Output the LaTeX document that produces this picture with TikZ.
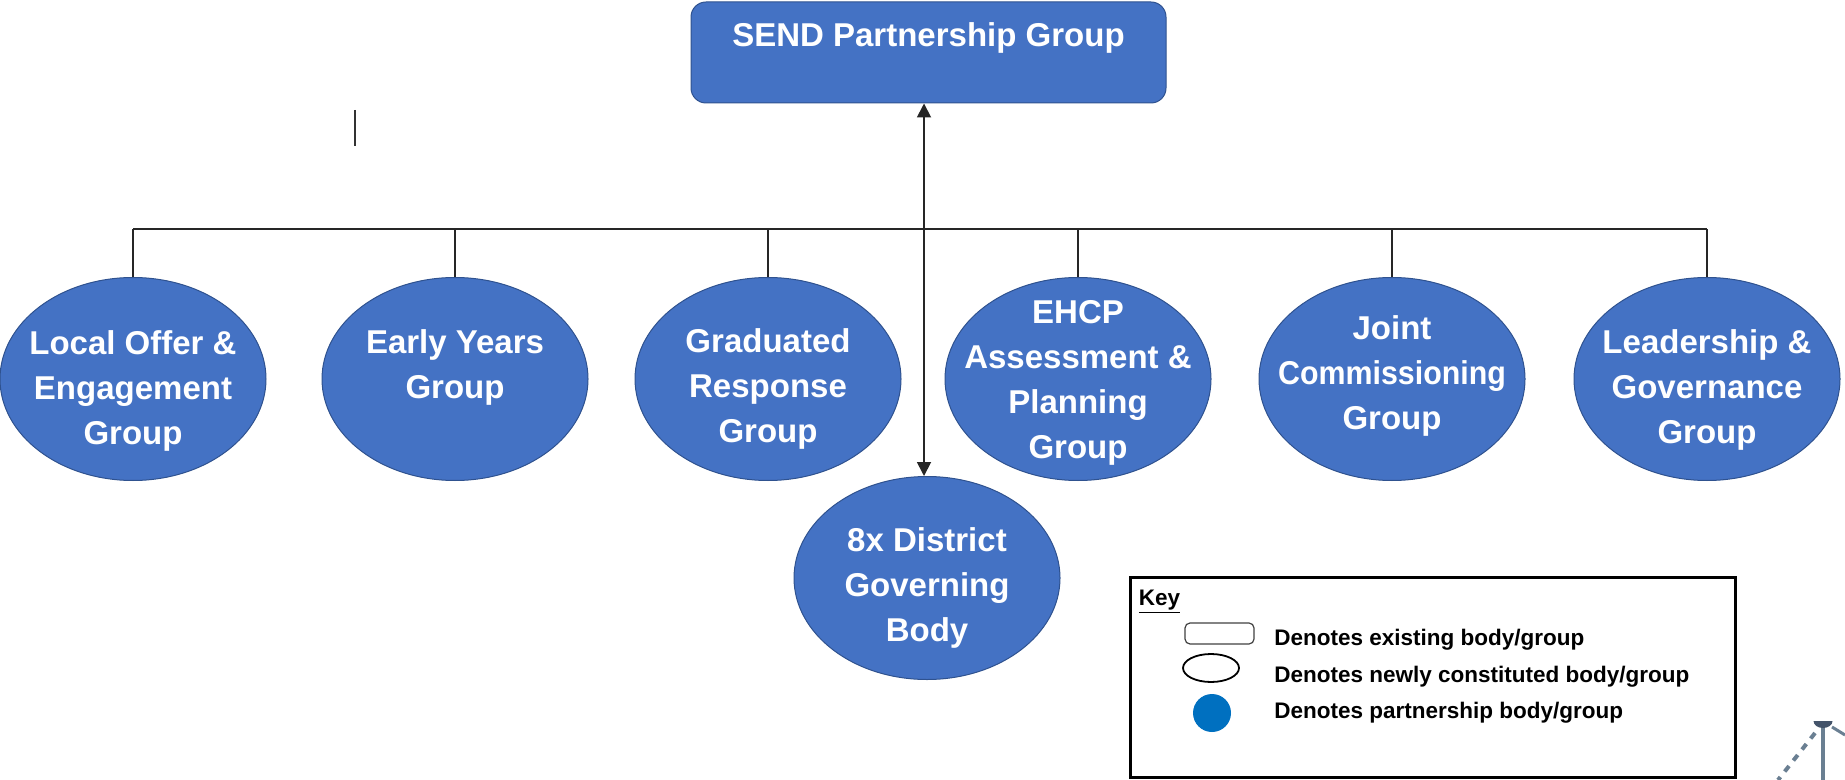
\documentclass[tikz,border=0pt]{standalone}
\usepackage{fontspec}
\setmainfont{Liberation Sans}
\usepackage{graphicx}
\usetikzlibrary{arrows.meta,shapes.geometric}
\definecolor{grpfill}{HTML}{4472C4}
\definecolor{grpline}{HTML}{2F528F}
\definecolor{keyblue}{HTML}{0070C0}
\definecolor{pinline}{HTML}{6A7F92}
\definecolor{pindark}{HTML}{44546A}
\begin{document}
\begin{tikzpicture}[x=0.5pt,y=-0.5pt,
  grp/.style={ellipse, fill=grpfill, draw=grpline, line width=0.5pt,
    minimum width=133pt, minimum height=101.5pt, inner sep=0pt},
  grptext/.style={anchor=north, align=center, text=white, inner sep=0pt,
    font=\fontsize{16.5}{22.5}\selectfont\bfseries},
  topbox/.style={rectangle, rounded corners=7.5pt, fill=grpfill, draw=grpline,
    line width=0.5pt, minimum width=237.5pt, minimum height=50.5pt, inner sep=0pt},
  conn/.style={draw=black!85, line width=0.9pt},
  keybox/.style={rectangle, draw=black, line width=1.5pt, minimum width=302.5pt,
    minimum height=100pt, inner sep=0pt},
  keytext/.style={anchor=base west, inner sep=0pt,
    font=\fontsize{11.25}{13}\selectfont\bfseries},
]
\useasboundingbox (0,0) rectangle (1845,780);

% top box
\node[topbox] (top) at (928.5,52.5) {};
\node[anchor=base, inner sep=0pt, text=white, font=\fontsize{16.5}{22.5}\selectfont\bfseries]
  (toptext) at (928.5,47) {SEND Partnership Group};

% groups
\node[grp] (g1) at (133,379) {};
\node[grp] (g2) at (455,379) {};
\node[grp] (g3) at (768,379) {};
\node[grp] (g4) at (1078,379) {};
\node[grp] (g5) at (1392,379) {};
\node[grp] (g6) at (1707,379) {};
\node[grp] (dist) at (927,578) {};

\node[grptext] (t1) at (133,330) {Local Offer \&\\Engagement\\Group};
\node[grptext] (t2) at (455,329) {Early Years\\Group};
\node[grptext] (t3) at (768,328) {Graduated\\Response\\Group};
\node[grptext] (t4) at (1078,300) {EHCP\\Assessment \&\\Planning\\Group};
\node[grptext] (t5) at (1392,315) {Joint\\\scalebox{0.92}[1]{Commissioning}\\Group};
\node[grptext] (t6) at (1707,329) {Leadership \&\\Governance\\Group};
\node[grptext] (t7) at (927,527) {8x District\\Governing\\Body};

% bus and drops
\coordinate (bus) at (0,229);
\draw[conn] (g1.north |- bus) -- (g6.north |- bus);
\foreach \i in {1,...,6} \draw[conn] (g\i.north) -- (g\i.north |- bus);

% double arrow
\coordinate (arr) at (924,0);
\draw[conn, {Triangle[length=7pt,width=7pt]}-{Triangle[length=7pt,width=7pt]}]
  (top.south -| arr) -- (dist.north -| arr);

% stray mark
\coordinate (s1) at (355,110);
\coordinate (s2) at (355,146);
\draw[line width=1pt, black!80] (s1) -- (s2);

% key
\node[keybox] (key) at (1432.5,677.5) {};
\node[keytext] (keytitle) at (1138.5,605) {\underline{Key}};
\node[rectangle, rounded corners=2.5pt, draw=black!75, line width=0.6pt,
  minimum width=34.5pt, minimum height=10.5pt, inner sep=0pt] (k1) at (1219.5,633.5) {};
\node[ellipse, draw=black, line width=0.9pt, minimum width=28pt, minimum height=14pt,
  inner sep=0pt] (k2) at (1211,668) {};
\node[circle, fill=keyblue, minimum size=19pt, inner sep=0pt] (k3) at (1212,713) {};
\node[keytext] (kt1) at (1274,645) {Denotes existing body/group};
\node[keytext] (kt2) at (1274,682) {Denotes newly constituted body/group};
\node[keytext] (kt3) at (1274,718) {Denotes partnership body/group};

% bottom-right partial shape
\coordinate (p1) at (1823,726);
\coordinate (p2) at (1823,780);
\coordinate (p3) at (1832,727);
\coordinate (p4) at (1845,735);
\coordinate (p5) at (1815,733);
\coordinate (p6) at (1778,780);
\draw[pinline, line width=2pt] (p1) -- (p2);
\draw[pinline, line width=1.5pt] (p3) -- (p4);
\draw[pinline, line width=2pt, dash pattern=on 3.5pt off 3.5pt] (p5) -- (p6);
\fill[pindark] (1813.5,721) arc[start angle=180,end angle=360,x radius=4.75pt,y radius=3.5pt] -- cycle;
\end{tikzpicture}
\end{document}
